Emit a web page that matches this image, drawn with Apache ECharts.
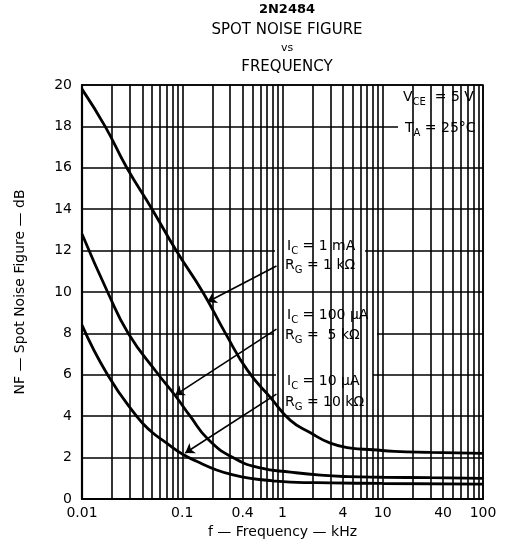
<!DOCTYPE html>
<html>
<head>
<meta charset="utf-8">
<script src="https://cdn.jsdelivr.net/npm/echarts@6/dist/echarts.min.js"></script>
<style>
  html, body { margin: 0; padding: 0; background: #fff; }
  #chart { width: 505px; height: 548px; }
</style>
</head>
<body>
<div id="chart"></div>
<script>
// 2N2484 spot noise figure vs frequency
const FONT = 'DejaVu Sans'

// x axis labels (kHz)
const xTickValues = [0.01, 0.1, 0.4, 1, 4, 10, 40, 100]
const xTickLabels = ['0.01', '0.1', '0.4', '1', '4', '10', '40', '100']

// log grid lines (kHz)
const gridFreqs = [
  0.02, 0.03, 0.04, 0.05, 0.06, 0.07, 0.08, 0.09,
  0.1, 0.2, 0.3, 0.4, 0.5, 0.6, 0.7, 0.8, 0.9,
  1, 2, 3, 4, 5, 6, 7, 8, 9,
  10, 20, 30, 40, 50, 60, 70, 80, 90, 100
]

// IC = 1 mA, RG = 1 kOhm
const f1mA = [0.01, 0.017, 0.028, 0.05, 0.087, 0.16, 0.27, 0.45, 0.76, 1.2, 1.9, 3.0, 4.8, 8, 13, 30, 100]
const nf1mA = [19.8, 18, 16, 14, 12, 10, 8, 6.2, 4.9, 3.8, 3.2, 2.7, 2.46, 2.38, 2.3, 2.25, 2.2]

// IC = 100 uA, RG = 5 kOhm
const f100uA = [0.01, 0.018, 0.029, 0.056, 0.085, 0.12, 0.18, 0.32, 0.6, 1.2, 2.4, 4.5, 10, 30, 100]
const nf100uA = [12.8, 10, 8, 6.1, 5.0, 4.0, 2.9, 2.0, 1.5, 1.3, 1.15, 1.08, 1.05, 1.03, 1.0]

// IC = 10 uA, RG = 10 kOhm
const f10uA = [0.01, 0.018, 0.035, 0.048, 0.07, 0.102, 0.15, 0.22, 0.33, 0.48, 0.8, 1.2, 3, 10, 100]
const nf10uA = [8.4, 6, 4, 3.3, 2.7, 2.15, 1.75, 1.4, 1.15, 1.0, 0.88, 0.82, 0.78, 0.75, 0.72]

// arrows: [tail, tip] in data units
const arrows = [
  [[0.87, 11.26], [0.178, 9.52]],
  [[0.87, 8.21], [0.085, 5.02]],
  [[0.87, 5.07], [0.107, 2.22]]
]

const zip = (xs, ys) => xs.map((x, i) => [x, ys[i]])

const rich = {
  n: { fontFamily: FONT, fontSize: 14, lineHeight: 20, color: '#000' },
  s: { fontFamily: FONT, fontSize: 10, lineHeight: 8, verticalAlign: 'bottom', color: '#000' }
}

function label(x, y, text) {
  return {
    type: 'text', x: x, y: y, z: 5, silent: true,
    style: {
      text: text, rich: rich, font: '14px ' + FONT, fill: '#000',
      align: 'left', verticalAlign: 'middle',
      textAlign: 'left', textVerticalAlign: 'middle'
    }
  }
}

function whiteBox(x, y, w, h) {
  return { type: 'rect', z: 2, silent: true, shape: { x: x, y: y, width: w, height: h }, style: { fill: '#fff' } }
}

function title(y, text, size, weight) {
  return {
    type: 'text', x: 287, y: y, z: 5, silent: true,
    style: {
      text: text, font: (weight || 'normal') + ' ' + size + 'px ' + FONT, fill: '#000',
      align: 'center', verticalAlign: 'middle',
      textAlign: 'center', textVerticalAlign: 'middle'
    }
  }
}

function curve(data) {
  return {
    type: 'line',
    data: data,
    z: 4,
    showSymbol: false,
    symbol: 'none',
    smooth: 0.5,
    silent: true,
    lineStyle: { color: '#000', width: 2.8 }
  }
}

const chart = echarts.init(document.getElementById('chart'), null, { renderer: 'canvas' })

chart.setOption({
  animation: false,
  backgroundColor: '#fff',
  grid: {
    left: 82, right: 22, top: 85, bottom: 49,
    show: true, borderColor: '#000', borderWidth: 1.6, backgroundColor: 'transparent'
  },
  xAxis: {
    type: 'log',
    logBase: 10,
    min: 0.01,
    max: 100,
    name: 'f — Frequency — kHz',
    nameLocation: 'middle',
    nameGap: 17,
    nameTextStyle: { fontFamily: FONT, fontSize: 14, color: '#000' },
    axisLine: { lineStyle: { color: '#000', width: 2.2 } },
    axisTick: { show: false },
    splitLine: { show: false },
    axisLabel: {
      customValues: xTickValues,
      fontFamily: FONT,
      fontSize: 14,
      color: '#000',
      margin: 7,
      formatter: v => {
        let best = 0
        xTickValues.forEach((t, i) => {
          if (Math.abs(Math.log10(t) - Math.log10(v)) < Math.abs(Math.log10(xTickValues[best]) - Math.log10(v))) best = i
        })
        return xTickLabels[best]
      }
    }
  },
  yAxis: {
    type: 'value',
    min: 0,
    max: 20,
    interval: 2,
    name: 'NF — Spot Noise Figure — dB',
    nameLocation: 'middle',
    nameRotate: 90,
    nameGap: 55,
    nameTextStyle: { fontFamily: FONT, fontSize: 14, color: '#000' },
    axisLine: { show: true, lineStyle: { color: '#000', width: 2.2 } },
    axisTick: { show: false },
    splitLine: { lineStyle: { color: '#000', width: 1.6 } },
    axisLabel: { fontFamily: FONT, fontSize: 14, color: '#000', margin: 10 }
  },
  series: [
    {
      // vertical log grid
      type: 'line',
      data: [],
      z: 1,
      silent: true,
      markLine: {
        silent: true,
        animation: false,
        symbol: ['none', 'none'],
        label: { show: false },
        lineStyle: { color: '#000', width: 1.6, type: 'solid' },
        emphasis: { disabled: true },
        data: gridFreqs.map(f => ({ xAxis: f }))
      }
    },
    curve(zip(f1mA, nf1mA)),
    curve(zip(f100uA, nf100uA)),
    curve(zip(f10uA, nf10uA)),
    {
      // leader arrows
      type: 'line',
      data: [],
      z: 4,
      silent: true,
      markLine: {
        silent: true,
        animation: false,
        symbol: ['none', 'arrow'],
        symbolSize: 9,
        label: { show: false },
        lineStyle: { color: '#000', width: 1.6, type: 'solid' },
        itemStyle: { color: '#000' },
        emphasis: { disabled: true },
        data: arrows.map(a => [{ coord: a[0] }, { coord: a[1] }])
      }
    }
  ],
  graphic: {
    elements: [
      title(10, '2N2484', 13, 'bold'),
      title(30, 'SPOT NOISE FIGURE', 15),
      title(48, 'vs', 11),
      title(67, 'FREQUENCY', 15),

      whiteBox(398, 86, 84, 54),
      whiteBox(275, 235, 90, 55),
      whiteBox(274, 303, 103, 47),
      whiteBox(276, 368, 97, 46),

      label(403, 97, '{n|V}{s|CE}{n|  = 5 V}'),
      label(405, 128, '{n|T}{s|A}{n| = 25°C}'),
      label(287, 246, '{n|I}{s|C}{n| = 1 mA}'),
      label(285, 265, '{n|R}{s|G}{n| = 1 kΩ}'),
      label(287, 315, '{n|I}{s|C}{n| = 100 µA}'),
      label(285, 335, '{n|R}{s|G}{n| =  5 kΩ}'),
      label(287, 381, '{n|I}{s|C}{n| = 10 µA}'),
      label(285, 402, '{n|R}{s|G}{n| = 10 kΩ}')
    ]
  }
})
</script>
</body>
</html>
